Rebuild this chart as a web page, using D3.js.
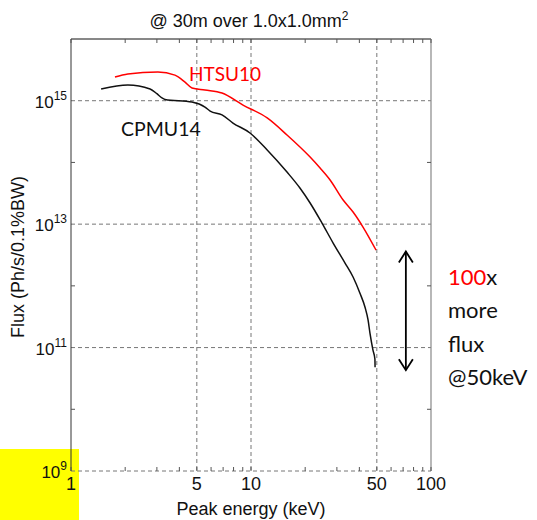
<!DOCTYPE html>
<html>
<head>
<meta charset="utf-8">
<script src="https://cdn.jsdelivr.net/npm/d3@7/dist/d3.min.js"></script>
<style>
  html, body { margin: 0; padding: 0; background: #fff; }
  svg { display: block; }
</style>
</head>
<body>
<svg id="chart" width="537" height="520"></svg>
<script>
// ---- data ----
const xTicks = [1, 5, 10, 50, 100];
const xMinor = [2, 3, 4, 6, 7, 8, 9, 20, 30, 40, 60, 70, 80, 90];
const yTicks = [1e9, 1e11, 1e13, 1e15];
const yTickExp = ["9", "11", "13", "15"];
const yMinor = [1e10, 1e12, 1e14];
const xGrid = [5, 10, 50];

const cpmuEnergy = [1.47, 2.07, 2.75, 3.0, 3.2, 3.33, 4.7, 5.55, 5.93, 6.9, 7.94, 9.87, 12.3, 15.85, 18.7, 21.3, 24.8, 28.6, 33.3, 36.9, 40.3, 43.0, 44.7, 45.8, 47.6, 48.8, 48.9];
const cpmuFlux   = [1.55e15, 1.80e15, 1.55e15, 1.3e15, 1.11e15, 1.05e15, 9.5e14, 7.9e14, 6.8e14, 5.9e14, 4.35e14, 3.0e14, 1.59e14, 6.98e13, 3.85e13, 2.2e13, 1.04e13, 4.94e12, 2.34e12, 1.39e12, 7.6e11, 4.5e11, 2.8e11, 1.72e11, 9.1e10, 6.5e10, 4.8e10];

const htsuEnergy = [1.755, 2.07, 3.04, 3.78, 4.3, 4.7, 5.55, 6.9, 9.03, 12.3, 15.85, 21.3, 24.2, 27.5, 32.5, 36.9, 41.9, 49.5];
const htsuFlux   = [2.42e15, 2.71e15, 2.92e15, 2.6e15, 2.0e15, 1.61e15, 1.49e15, 1.33e15, 8.5e14, 5.25e14, 2.78e14, 1.22e14, 8.1e13, 5.2e13, 2.46e13, 1.57e13, 8.98e12, 3.8e12];

const arrowX = 72.5;
const arrowY = [3.6e12, 4.3e10];

// ---- layout ----
const svg = d3.select("#chart");
const x = d3.scaleLog().domain([1, 100]).range([71, 431]);
const y = d3.scaleLog().domain([1e9, 1e16]).range([471, 39]);

const gridColor = "#777";

// yellow box (behind labels)
svg.append("rect").attr("x", 0).attr("y", 449).attr("width", 79).attr("height", 71).attr("fill", "#ffff00");

// grid
svg.append("g").selectAll("line").data(xGrid).join("line")
  .attr("x1", d => x(d)).attr("x2", d => x(d))
  .attr("y1", y(1e16)).attr("y2", y(1e9))
  .attr("stroke", gridColor).attr("stroke-width", 1).attr("stroke-dasharray", "4,3");
svg.append("g").selectAll("line").data(yTicks).join("line")
  .attr("x1", x(1)).attr("x2", x(100))
  .attr("y1", d => y(d)).attr("y2", d => y(d))
  .attr("stroke", gridColor).attr("stroke-width", 1).attr("stroke-dasharray", "4,3");

// borders
svg.append("line").attr("x1", x(1)).attr("x2", x(100)).attr("y1", y(1e16)).attr("y2", y(1e16)).attr("stroke", "#111").attr("stroke-width", 1);
svg.append("line").attr("x1", x(1)).attr("x2", x(1)).attr("y1", y(1e16)).attr("y2", y(1e9)).attr("stroke", "#333").attr("stroke-width", 1);
svg.append("line").attr("x1", x(100)).attr("x2", x(100)).attr("y1", y(1e16)).attr("y2", y(1e9)).attr("stroke", "#888").attr("stroke-width", 1.2);

// minor ticks
const tickCol = "#555";
const allX = xMinor.concat(xTicks);
svg.append("g").selectAll("line").data(allX).join("line")
  .attr("x1", d => x(d)).attr("x2", d => x(d))
  .attr("y1", y(1e9)).attr("y2", y(1e9) - 4)
  .attr("stroke", tickCol);
svg.append("g").selectAll("line").data(allX).join("line")
  .attr("x1", d => x(d)).attr("x2", d => x(d))
  .attr("y1", y(1e16)).attr("y2", y(1e16) + 4)
  .attr("stroke", tickCol);
svg.append("g").selectAll("line").data(yMinor).join("line")
  .attr("x1", x(1)).attr("x2", x(1) + 4)
  .attr("y1", d => y(d)).attr("y2", d => y(d))
  .attr("stroke", tickCol);
svg.append("g").selectAll("line").data(yMinor).join("line")
  .attr("x1", x(100)).attr("x2", x(100) - 4)
  .attr("y1", d => y(d)).attr("y2", d => y(d))
  .attr("stroke", tickCol);

// tick labels
const axisFont = "'Liberation Sans', Arial, sans-serif";
const yl = svg.append("g").selectAll("text").data(yTicks).join("text")
  .attr("x", x(1) - 4).attr("y", d => y(d) + 7)
  .attr("text-anchor", "end")
  .attr("font-family", axisFont).attr("font-size", 17).attr("fill", "#111");
yl.append("tspan").text("10");
yl.append("tspan").attr("dy", -8).attr("font-size", 12).text((d, i) => yTickExp[i]);

svg.append("g").selectAll("text").data(xTicks).join("text")
  .attr("x", d => x(d)).attr("y", 490)
  .attr("text-anchor", "middle")
  .attr("font-family", axisFont).attr("font-size", 18).attr("fill", "#111")
  .text(d => d);

// axis titles
svg.append("text").attr("x", 251).attr("y", 515).attr("text-anchor", "middle")
  .attr("font-family", axisFont).attr("font-size", 18).attr("fill", "#111")
  .text("Peak energy (keV)");
svg.append("text").attr("transform", "translate(24,257) rotate(-90)").attr("text-anchor", "middle")
  .attr("font-family", axisFont).attr("font-size", 18).attr("fill", "#111")
  .text("Flux (Ph/s/0.1%BW)");

// title
const t = svg.append("text").attr("x", 249).attr("y", 27).attr("text-anchor", "middle")
  .attr("font-family", axisFont).attr("font-size", 18).attr("fill", "#111");
t.append("tspan").text("@ 30m over 1.0x1.0mm");
t.append("tspan").attr("dy", -7).attr("font-size", 12).text("2");

// curves
const line = d3.line().x(d => x(d[0])).y(d => y(d[1])).curve(d3.curveMonotoneX);
svg.append("path").datum(htsuEnergy.map((e, i) => [e, htsuFlux[i]]))
  .attr("d", line).attr("fill", "none").attr("stroke", "#ff0000").attr("stroke-width", 1.5);
svg.append("path").datum(cpmuEnergy.map((e, i) => [e, cpmuFlux[i]]))
  .attr("d", line).attr("fill", "none").attr("stroke", "#111").attr("stroke-width", 1.5);

// labels
const labFont = "Lato, 'Open Sans', sans-serif";
svg.append("text").attr("x", 189).attr("y", 81).attr("font-family", labFont).attr("font-size", 19)
  .attr("fill", "#ff0000").text("HTSU10");
svg.append("text").attr("x", 121).attr("y", 136).attr("font-family", labFont).attr("font-size", 19.5)
  .attr("fill", "#111").text("CPMU14");

// arrow
const ax = x(arrowX), ay1 = y(arrowY[0]), ay2 = y(arrowY[1]);
const ag = svg.append("g").attr("stroke", "#000").attr("stroke-width", 1.8).attr("fill", "none");
ag.append("line").attr("x1", ax).attr("x2", ax).attr("y1", ay1).attr("y2", ay2);
ag.append("polyline").attr("points", `${ax-7},${ay1+11} ${ax},${ay1} ${ax+7},${ay1+11}`);
ag.append("polyline").attr("points", `${ax-7},${ay2-11} ${ax},${ay2} ${ax+7},${ay2-11}`);

// annotation text
const annLines = ["more", "flux", "@50keV"];
const a0 = svg.append("text").attr("x", 448).attr("y", 285).attr("font-family", labFont).attr("font-size", 22).attr("fill", "#111");
a0.append("tspan").attr("fill", "#ff0000").text("100");
a0.append("tspan").text("x");
svg.append("g").selectAll("text").data(annLines).join("text")
  .attr("x", 448).attr("y", (d, i) => 318 + i * 33.5)
  .attr("font-family", labFont).attr("font-size", 22).attr("fill", "#111")
  .text(d => d);
</script>
</body>
</html>
